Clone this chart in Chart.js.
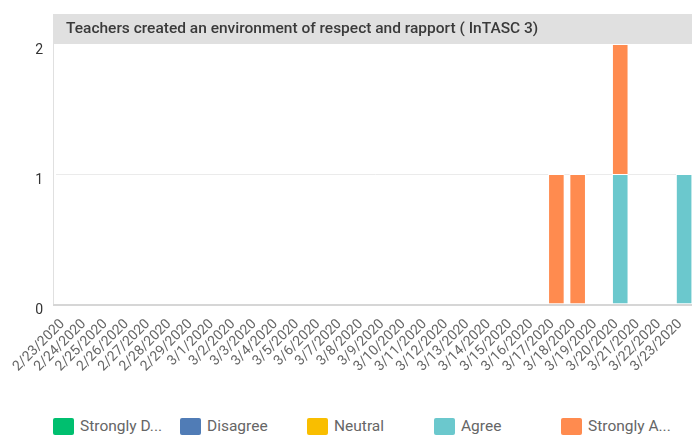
<!DOCTYPE html>
<html>
<head>
<meta charset="utf-8">
<script src="https://cdn.jsdelivr.net/npm/chart.js@4.4.0/dist/chart.umd.min.js"></script>
<style>
    body { margin: 0; background: #fff; overflow: hidden; font-family: Roboto, sans-serif; }
    #wrap { position: relative; width: 692px; height: 442px; overflow: hidden; }
    #chart { position: absolute; left: 0; top: 0; }
    #legend { position: absolute; left: 53px; top: 417px; display: flex; }
    .legend-item { width: 127px; display: flex; align-items: center; font-size: 15.5px; color: #666; white-space: nowrap; }
    .legend-box { width: 21px; height: 17px; border-radius: 2px; margin-right: 6px; flex: none; }
</style>
</head>
<body>
<div id="wrap">
    <canvas id="chart" width="700" height="372"></canvas>
    <div id="legend"></div>
</div>
<script>
const chartTitle = 'Teachers created an environment of respect and rapport ( InTASC 3)';

const categories = [
    '2/23/2020', '2/24/2020', '2/25/2020', '2/26/2020', '2/27/2020', '2/28/2020', '2/29/2020',
    '3/1/2020', '3/2/2020', '3/3/2020', '3/4/2020', '3/5/2020', '3/6/2020', '3/7/2020', '3/8/2020',
    '3/9/2020', '3/10/2020', '3/11/2020', '3/12/2020', '3/13/2020', '3/14/2020', '3/15/2020',
    '3/16/2020', '3/17/2020', '3/18/2020', '3/19/2020', '3/20/2020', '3/21/2020', '3/22/2020', '3/23/2020'
];

const seriesNames = ['Strongly Disagree', 'Disagree', 'Neutral', 'Agree', 'Strongly Agree'];
const seriesColors = ['#00bf6f', '#507cb6', '#f9be00', '#6bc8cd', '#ff8b4f'];

const stronglyDisagree = [0,0,0,0,0,0,0, 0,0,0,0,0,0,0,0, 0,0,0,0,0,0,0, 0,0,0,0,0,0,0,0];
const disagree         = [0,0,0,0,0,0,0, 0,0,0,0,0,0,0,0, 0,0,0,0,0,0,0, 0,0,0,0,0,0,0,0];
const neutral          = [0,0,0,0,0,0,0, 0,0,0,0,0,0,0,0, 0,0,0,0,0,0,0, 0,0,0,0,0,0,0,0];
const agree            = [0,0,0,0,0,0,0, 0,0,0,0,0,0,0,0, 0,0,0,0,0,0,0, 0,0,0,0,1,0,0,1];
const stronglyAgree    = [0,0,0,0,0,0,0, 0,0,0,0,0,0,0,0, 0,0,0,0,0,0,0, 0,1,1,0,1,0,0,0];

const yTicks = [0, 1, 2];

document.addEventListener('DOMContentLoaded', function() {
    const seriesValues = [stronglyDisagree, disagree, neutral, agree, stronglyAgree];
    const frameInset = 3; // plot frame sits a little left of the first category

    // Gray title band above the plot
    const titleBand = {
        id: 'titleBand',
        beforeDraw(chart) {
            const ctx = chart.ctx;
            const area = chart.chartArea;
            const left = area.left - frameInset;
            ctx.save();
            ctx.fillStyle = '#e0e0e0';
            ctx.fillRect(left, 14, chart.width - left, area.top - 14);
            ctx.fillStyle = '#3a3a3a';
            ctx.font = '500 15.5px Roboto, sans-serif';
            ctx.textBaseline = 'middle';
            ctx.fillText(chartTitle, left + 13, 29);
            ctx.restore();
        },
        // Left frame line and base line
        afterDatasetsDraw(chart) {
            const ctx = chart.ctx;
            const area = chart.chartArea;
            const left = area.left - frameInset;
            ctx.save();
            ctx.strokeStyle = '#e0e0e0';
            ctx.lineWidth = 1;
            ctx.beginPath();
            ctx.moveTo(left + 0.5, area.top);
            ctx.lineTo(left + 0.5, area.bottom);
            ctx.stroke();
            ctx.strokeStyle = '#d6d6d6';
            ctx.lineWidth = 2;
            ctx.beginPath();
            ctx.moveTo(left, area.bottom + 1);
            ctx.lineTo(chart.width, area.bottom + 1);
            ctx.stroke();
            ctx.restore();
        }
    };

    const chart = new Chart(document.getElementById('chart'), {
        type: 'bar',
        data: {
            labels: categories,
            datasets: seriesNames.map((name, i) => ({
                label: name,
                data: seriesValues[i],
                backgroundColor: seriesColors[i],
                borderColor: '#ffffff',
                borderWidth: 1,
                categoryPercentage: 1,
                barPercentage: 0.78
            }))
        },
        options: {
            responsive: false,
            animation: false,
            layout: { padding: { top: 44, left: 0, right: 0, bottom: 0 } },
            scales: {
                x: {
                    stacked: true,
                    grid: { display: false },
                    border: { display: false },
                    ticks: {
                        autoSkip: false,
                        minRotation: 45,
                        maxRotation: 45,
                        padding: 4,
                        labelOffset: -4,
                        color: '#666',
                        font: { family: 'Roboto', size: 14 }
                    },
                    afterFit: scale => { scale.height = 68; }
                },
                y: {
                    stacked: true,
                    min: 0,
                    max: 2,
                    afterBuildTicks: scale => { scale.ticks = yTicks.map(v => ({ value: v })); },
                    grid: {
                        drawTicks: false,
                        color: ctx => ctx.tick && ctx.tick.value === 1 ? '#ebebeb' : 'rgba(0,0,0,0)'
                    },
                    border: { display: false },
                    ticks: {
                        padding: 13,
                        labelOffset: 6,
                        color: '#333',
                        font: { family: 'Roboto', size: 14 }
                    },
                    afterFit: scale => { scale.width = 56; }
                }
            },
            plugins: {
                legend: { display: false },
                title: { display: false },
                tooltip: { enabled: false }
            }
        },
        plugins: [titleBand]
    });

    // Legend with fixed-width columns, long names shortened
    const legend = document.getElementById('legend');
    chart.data.datasets.forEach(ds => {
        const item = document.createElement('div');
        item.className = 'legend-item';
        const box = document.createElement('span');
        box.className = 'legend-box';
        box.style.background = ds.backgroundColor;
        const text = document.createElement('span');
        text.textContent = ds.label.length > 12 ? ds.label.slice(0, 10) + '...' : ds.label;
        item.appendChild(box);
        item.appendChild(text);
        legend.appendChild(item);
    });
});
</script>
</body>
</html>
